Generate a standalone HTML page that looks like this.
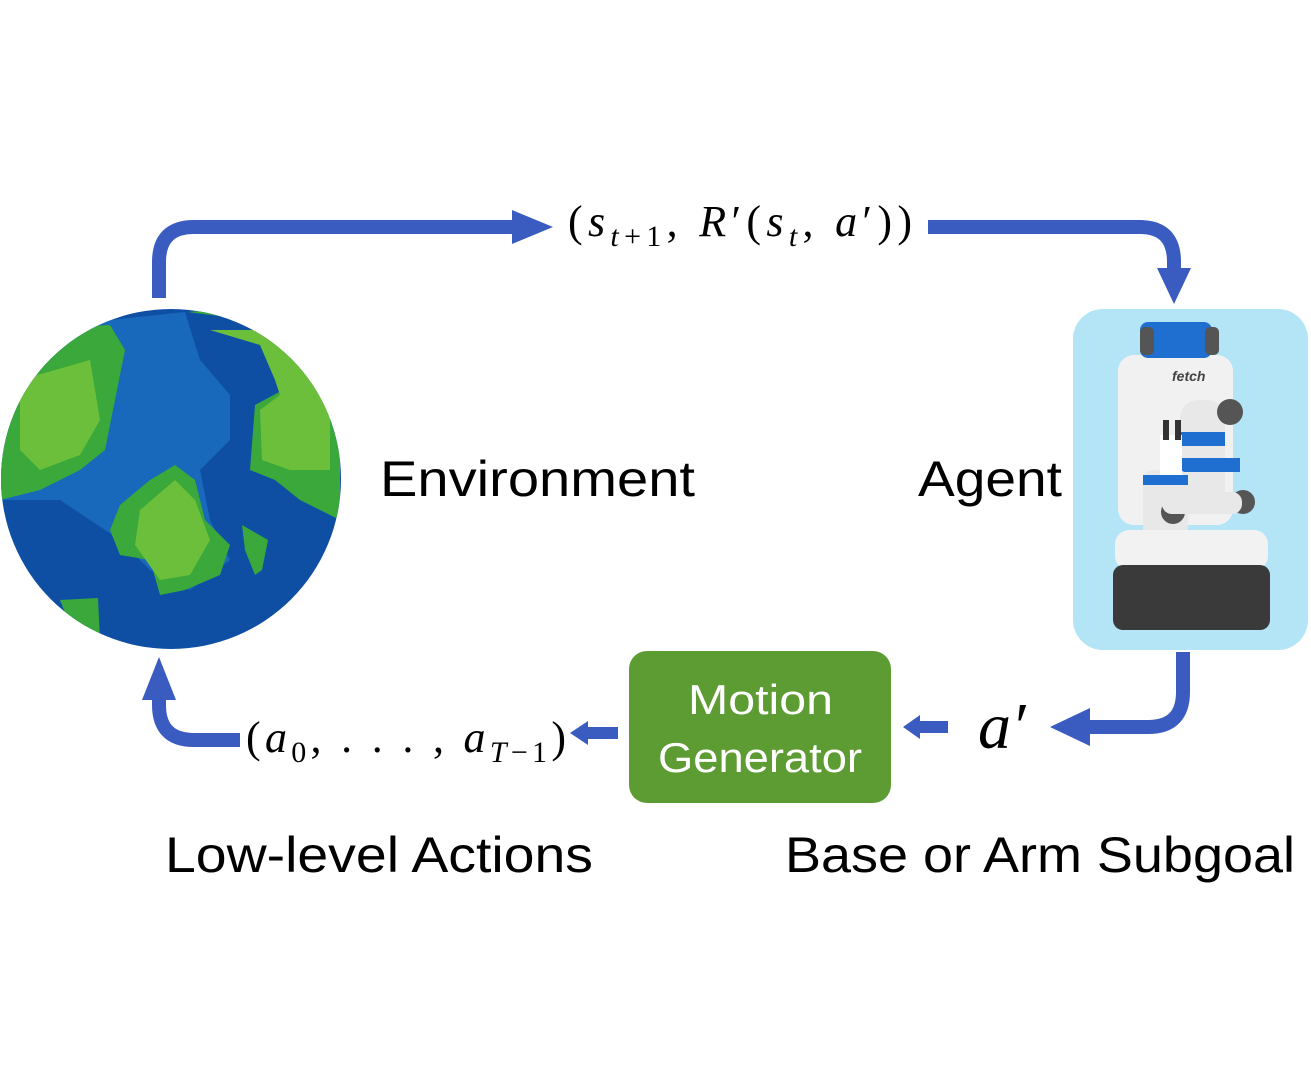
<!DOCTYPE html>
<html><head><meta charset="utf-8"><style>
html,body{margin:0;padding:0;background:#fff;}
svg{display:block}
.m{font-family:"Liberation Serif",serif;}
.s{font-family:"Liberation Sans",sans-serif;}
</style></head><body>
<svg width="1311" height="1080" viewBox="0 0 1311 1080" xmlns="http://www.w3.org/2000/svg">
<g fill="none" stroke="#3a5bc0" stroke-width="14">
<path d="M159 298 V262 Q159 227 194 227 H515"/>
<path d="M928 227 H1140 Q1174 227 1174 262 V272"/>
<path d="M1183 652 V692 Q1183 727 1148 727 H1085"/>
<path d="M240 740 H194 Q159 740 159 705 V695"/>
</g>
<g fill="#3a5bc0">
<polygon points="512,210 553,227 512,244"/>
<polygon points="1157,268 1174,304 1191,268"/>
<polygon points="1090,708 1050,727 1090,746"/>
<polygon points="903,727 920,715 920,721 948,721 948,733 920,733 920,739"/>
<polygon points="570,733 588,721 588,727 618,727 618,739 588,739 588,745"/>
<polygon points="142,700 159,657 176,700"/>
</g>
<defs><clipPath id="g"><circle cx="171" cy="479" r="170"/></clipPath></defs>
<circle cx="171" cy="479" r="170" fill="#0f4fa3"/>
<g clip-path="url(#g)">
<path d="M110 320 L185 312 L200 360 L230 395 L230 440 L200 470 L210 520 L230 560 L190 590 L150 570 L120 540 L90 520 L60 500 L0 500 V300 Z" fill="#1a6fc0" opacity="0.8"/>
<path d="M0 330 L110 325 L125 350 L115 400 L105 450 L80 470 L40 490 L0 500 Z" fill="#3aa83a"/>
<path d="M20 380 L90 360 L100 420 L80 455 L40 470 L20 450 Z" fill="#6cbf3a"/>
<path d="M188 312 L250 320 L290 380 L283 390 L255 405 L250 470 L275 480 L300 500 L340 520 L340 300 Z" fill="#3aa83a"/>
<path d="M210 330 L260 345 L275 380 L280 395 L260 410 L262 460 L290 470 L330 470 L330 380 L280 330 Z" fill="#6cbf3a"/>
<path d="M175 465 L195 480 L205 520 L230 545 L220 575 L185 590 L160 595 L150 560 L120 555 L110 530 L120 505 L150 480 Z" fill="#3aa83a"/>
<path d="M175 480 L195 500 L210 540 L190 575 L160 580 L135 545 L140 510 Z" fill="#6cbf3a"/>
<path d="M242 525 L268 540 L262 570 L255 575 L245 550 Z" fill="#3aa83a"/>
<path d="M60 600 L98 598 L100 640 L80 650 Z" fill="#3aa83a"/>
</g>
<rect x="1073" y="309" width="235" height="341" rx="30" fill="#b3e5f7"/>
<rect x="1118" y="355" width="115" height="170" rx="16" fill="#f1f1f1"/>
<rect x="1140" y="322" width="72" height="36" rx="8" fill="#1f6fd0"/>
<rect x="1140" y="327" width="14" height="28" rx="5" fill="#555"/>
<rect x="1205" y="327" width="14" height="28" rx="5" fill="#555"/>
<text x="1172" y="381" font-family="Liberation Sans,sans-serif" font-size="14" font-style="italic" font-weight="bold" fill="#444">fetch</text>
<rect x="1180" y="400" width="45" height="110" rx="18" fill="#e8e8e8"/>
<rect x="1180" y="432" width="45" height="14" fill="#1f6fd0"/>
<rect x="1180" y="458" width="60" height="14" fill="#1f6fd0"/>
<circle cx="1230" cy="412" r="13" fill="#555"/>
<rect x="1143" y="470" width="45" height="70" rx="10" fill="#e8e8e8"/>
<rect x="1143" y="475" width="45" height="10" fill="#1f6fd0"/>
<circle cx="1173" cy="512" r="12" fill="#555"/>
<circle cx="1243" cy="502" r="12" fill="#555"/>
<rect x="1162" y="492" width="80" height="22" rx="10" fill="#e8e8e8"/>
<rect x="1115" y="530" width="153" height="40" rx="14" fill="#f2f2f2"/>
<rect x="1113" y="565" width="157" height="65" rx="10" fill="#3a3a3a"/>
<rect x="1160" y="435" width="22" height="40" fill="#fff"/>
<rect x="1163" y="420" width="6" height="20" fill="#333"/>
<rect x="1175" y="420" width="6" height="20" fill="#333"/>
<rect x="629" y="651" width="262" height="152" rx="18" fill="#5d9c33"/>
<text x="688" y="714" class="s" font-size="42" fill="#fff" textLength="145" lengthAdjust="spacingAndGlyphs">Motion</text>
<text x="658" y="772" class="s" font-size="42" fill="#fff" textLength="204" lengthAdjust="spacingAndGlyphs">Generator</text>
<text x="380" y="496" class="s" font-size="50" fill="#000" textLength="315" lengthAdjust="spacingAndGlyphs">Environment</text>
<text x="918" y="496" class="s" font-size="50" fill="#000" textLength="144" lengthAdjust="spacingAndGlyphs">Agent</text>
<text x="165" y="872" class="s" font-size="50" fill="#000" textLength="428" lengthAdjust="spacingAndGlyphs">Low-level Actions</text>
<text x="785" y="872" class="s" font-size="50" fill="#000" textLength="510" lengthAdjust="spacingAndGlyphs">Base or Arm Subgoal</text>
<text x="568" y="236" class="m" font-size="44" fill="#000" textLength="344" lengthAdjust="spacing">(<tspan font-style="italic">s</tspan><tspan font-size="30" dy="10"><tspan font-style="italic">t</tspan>+1</tspan><tspan dy="-10">, </tspan><tspan font-style="italic">R</tspan>′(<tspan font-style="italic">s</tspan><tspan font-size="30" dy="10" font-style="italic">t</tspan><tspan dy="-10">, </tspan><tspan font-style="italic">a</tspan>′))</text>
<text x="978" y="748" class="m" font-size="66" font-style="italic" fill="#000">a′</text>
<text x="246" y="752" class="m" font-size="44" fill="#000" textLength="320" lengthAdjust="spacing">(<tspan font-style="italic">a</tspan><tspan font-size="30" dy="10">0</tspan><tspan dy="-10">, . . . , </tspan><tspan font-style="italic">a</tspan><tspan font-size="30" dy="10"><tspan font-style="italic">T</tspan>−1</tspan><tspan dy="-10">)</tspan></text>
</svg>
</body></html>
